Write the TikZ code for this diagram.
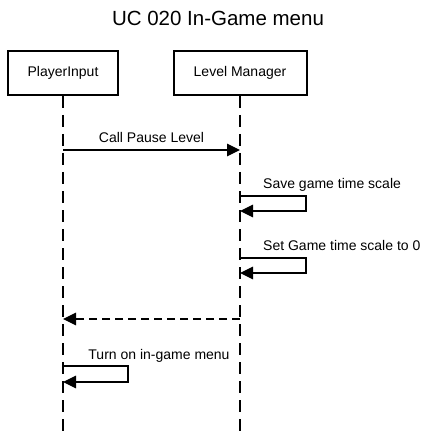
\documentclass[tikz,border=0pt]{standalone}
\usepackage{fontspec}
\setmainfont{Liberation Sans}
\usetikzlibrary{arrows.meta}
\begin{document}
\begin{tikzpicture}[x=1pt,y=-1pt,
  actor/.style={draw,line width=2pt,minimum width=110pt,minimum height=44pt,inner sep=0pt,font=\fontsize{14}{16}\selectfont},
  lifeline/.style={line width=1.2pt,dash pattern=on 12pt off 7pt},
  msg/.style={line width=1.2pt,-{Triangle[length=13pt,width=12.5pt]}},
  ret/.style={msg,dash pattern=on 8pt off 5pt},
  lbl/.style={font=\fontsize{14}{16}\selectfont,inner sep=0pt}]
\useasboundingbox (0,0) rectangle (435,438);
\node[font=\fontsize{20.5}{24}\selectfont] (title) at (218,18) {UC 020 In-Game menu};
\node[actor] (pi) at (63,73) {PlayerInput};
\node[actor,minimum width=133pt] (lm) at (240,73) {Level Manager};
\coordinate (piend) at (63,433);
\coordinate (lmend) at (240,433);
\draw[lifeline] (pi.south) -- (piend);
\draw[lifeline] (lm.south) -- (lmend);
% message 1
\coordinate (m1a) at (63,150);
\coordinate (m1b) at (240,150);
\draw[msg] (m1a) -- node[lbl,above=7pt] (l1) {Call Pause Level} (m1b);
% self 1
\coordinate (s1a) at (240,196);
\coordinate (s1b) at (306,196);
\coordinate (s1c) at (306,211);
\coordinate (s1d) at (240,211);
\draw[msg] (s1a) -- (s1b) -- (s1c) -- (s1d);
\node[lbl,anchor=base west] (l2) at (263,189) {Save game time scale};
% self 2
\coordinate (s2a) at (240,258);
\coordinate (s2b) at (306,258);
\coordinate (s2c) at (306,273);
\coordinate (s2d) at (240,273);
\draw[msg] (s2a) -- (s2b) -- (s2c) -- (s2d);
\node[lbl,anchor=base west] (l3) at (263,250) {Set Game time scale to 0};
% return
\coordinate (ra) at (240,319);
\coordinate (rb) at (63,319);
\draw[ret] (ra) -- (rb);
% self 3
\coordinate (s3a) at (63,366);
\coordinate (s3b) at (128,366);
\coordinate (s3c) at (128,382);
\coordinate (s3d) at (63,382);
\draw[msg] (s3a) -- (s3b) -- (s3c) -- (s3d);
\node[lbl,anchor=base] (l4) at (159,359) {Turn on in-game menu};
\end{tikzpicture}
\end{document}
